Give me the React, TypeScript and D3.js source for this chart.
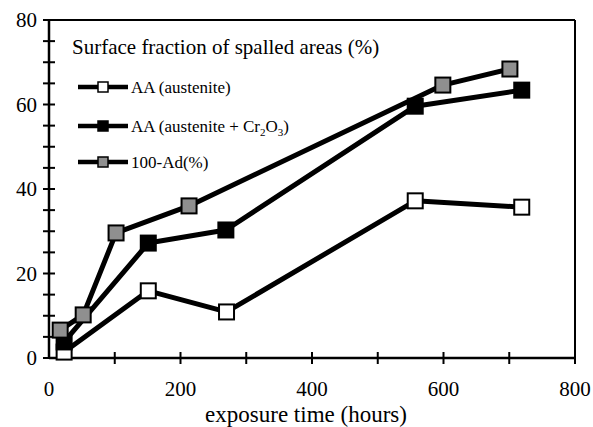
import React from "react";
import * as d3 from "d3";

const W = 593;
const H = 427;

const seriesNames = ["AA (austenite)", "AA (austenite + Cr2O3)", "100-Ad(%)"];
const seriesFills = ["#ffffff", "#000000", "#8f8f8f"];

const whiteX = [23, 151, 270, 557, 719];
const whiteY = [1.4, 15.9, 10.9, 37.2, 35.7];
const blackX = [23, 151, 269, 557, 719];
const blackY = [3.8, 27.2, 30.3, 59.6, 63.4];
const grayX = [17, 52, 102, 213, 599, 701];
const grayY = [6.6, 10.2, 29.6, 36.0, 64.6, 68.4];

const xTickLabels = [0, 200, 400, 600, 800];
const yTickLabels = [0, 20, 40, 60, 80];

const xTitle = "exposure time (hours)";
const legendTitle = "Surface fraction of spalled areas (%)";

const FONT = '"Liberation Serif", "Times New Roman", Times, "DejaVu Serif", serif';

export default function App() {
  const x = d3.scaleLinear().domain([0, 800]).range([49, 575]);
  const y = d3.scaleLinear().domain([0, 80]).range([358, 20]);
  const line = d3.line<[number, number]>().x((d) => x(d[0])).y((d) => y(d[1]));

  const series = [
    { xs: whiteX, ys: whiteY },
    { xs: blackX, ys: blackY },
    { xs: grayX, ys: grayY },
  ];

  const minorX = d3.range(100, 801, 100);
  const minorY = d3.range(0, 81, 5);
  const ms = 15;
  const legendRows = [87, 126, 162];
  const ts = (size: number) => ({ fontFamily: FONT, fontSize: size + "px" });

  return (
    <svg width={W} height={H} style={{ position: "absolute", left: 0, top: 0, background: "#fff" }}>
      <rect x={0} y={0} width={W} height={H} fill="#fff" />
      <line x1={x(0)} x2={x(800)} y1={y(80)} y2={y(80)} stroke="#000" strokeWidth={2} />
      <line x1={x(800)} x2={x(800)} y1={y(80)} y2={y(0)} stroke="#000" strokeWidth={2} />
      <line x1={x(0)} x2={x(0)} y1={y(80)} y2={y(0)} stroke="#000" strokeWidth={2.5} />
      <line x1={x(0)} x2={x(800)} y1={y(0)} y2={y(0)} stroke="#000" strokeWidth={2.5} />
      {minorY.map((v) => (
        <line key={"yt" + v} x1={x(0) - 6} x2={x(0) + 6} y1={y(v)} y2={y(v)} stroke="#000" strokeWidth={2} />
      ))}
      {minorX.map((v) => (
        <line key={"xt" + v} x1={x(v)} x2={x(v)} y1={y(0) - 6} y2={y(0) + 6} stroke="#000" strokeWidth={2} />
      ))}
      {yTickLabels.map((v) => (
        <text key={"yl" + v} x={x(0) - 12} y={y(v)} dy="0.35em" textAnchor="end" style={ts(21)} fill="#000">
          {v}
        </text>
      ))}
      {xTickLabels.map((v) => (
        <text key={"xl" + v} x={x(v)} y={y(0) + 38} textAnchor="middle" style={ts(21)} fill="#000">
          {v}
        </text>
      ))}
      <text x={306} y={422} textAnchor="middle" style={ts(23)} fill="#000">
        {xTitle}
      </text>

      {series.map((s, i) => {
        const pts = s.xs.map((xv, j) => [xv, s.ys[j]] as [number, number]);
        return (
          <g key={"s" + i}>
            <path d={line(pts) || ""} fill="none" stroke="#000" strokeWidth={5} strokeLinejoin="round" />
            {pts.map((p, j) => (
              <rect
                key={j}
                x={x(p[0]) - ms / 2}
                y={y(p[1]) - ms / 2}
                width={ms}
                height={ms}
                fill={seriesFills[i]}
                stroke="#000"
                strokeWidth={2}
              />
            ))}
          </g>
        );
      })}

      <text x={72} y={54} style={ts(21)} fill="#000">
        {legendTitle}
      </text>
      {seriesNames.map((name, i) => (
        <g key={"lg" + i}>
          <line x1={78} x2={128} y1={legendRows[i]} y2={legendRows[i]} stroke="#000" strokeWidth={4.5} />
          <rect x={98} y={legendRows[i] - 5} width={10} height={10} fill={seriesFills[i]} stroke="#000" strokeWidth={1.5} />
          <text x={131} y={legendRows[i]} dy="0.35em" style={ts(17)} fill="#000">
            {i === 1 ? (
              <>
                AA (austenite + Cr
                <tspan style={{ fontSize: "11px" }} dy="4">2</tspan>
                <tspan dy="-4">O</tspan>
                <tspan style={{ fontSize: "11px" }} dy="4">3</tspan>
                <tspan dy="-4">)</tspan>
              </>
            ) : (
              name
            )}
          </text>
        </g>
      ))}
    </svg>
  );
}
